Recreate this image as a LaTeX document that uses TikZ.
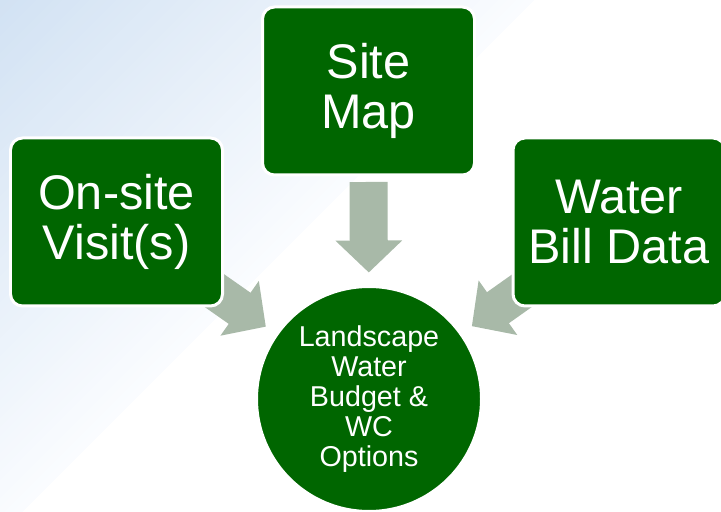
\documentclass[tikz,border=0pt]{standalone}
\usepackage{fontspec}
\setmainfont{Liberation Sans}
\usetikzlibrary{arrows.meta,backgrounds}
\pgfdeclarelayer{bottom}
\pgfsetlayers{bottom,background,main}
\definecolor{leafgreen}{RGB}{0,102,0}
\definecolor{arrowgray}{RGB}{168,185,168}
\definecolor{skyblue}{RGB}{210,226,243}
\definecolor{paleblue}{RGB}{250,252,255}
\tikzset{
  box/.style={rectangle, draw=white, line width=0.09cm, fill=leafgreen, rounded corners=0.36cm,
    minimum width=6.36cm, minimum height=5.04cm, text=white, align=center,
    font=\fontsize{41.5}{43}\selectfont},
  hub/.style={circle, draw=white, line width=0.09cm, fill=leafgreen, minimum size=6.75cm,
    inner sep=0pt, text=white, align=center, font=\fontsize{24.5}{25.5}\selectfont},
  feed/.style={draw=arrowgray, line width=1.14cm, -{Triangle[length=0.96cm, width=1.95cm]}}
}

\begin{document}
\begin{tikzpicture}
  \useasboundingbox (0,0) rectangle (21.63,15.33);
  % backdrop: pale blue wash in the upper left corner, in diagonal bands
  \begin{pgfonlayer}{bottom}
    \clip (0,0) rectangle (21.63,15.33);
    \foreach \i in {0,...,59} {
      \pgfmathsetmacro{\sa}{\i*16/60}
      \pgfmathsetmacro{\sb}{(\i+1)*16/60+0.03}
      \pgfmathsetmacro{\mix}{100-100*\i/59}
      \fill[skyblue!\mix!paleblue] (\sa,15.33) -- (\sb,15.33) -- (0,15.33-\sb) -- (0,15.33-\sa) -- cycle;
    }
  \end{pgfonlayer}
  \node[box] (visit) at (3.495,8.67) {On-site\\Visit(s)};
  \node[box] (site) at (11.055,12.6) {Site\\Map};
  \node[box] (bill) at (18.57,8.67) {Water\\Bill Data};
  \node[hub] (land) at (11.07,3.36) {Landscape\\Water\\Budget \&\\WC\\Options};
  \begin{pgfonlayer}{background}
    \draw[feed, shorten <=0.165cm, shorten >=0.375cm] (site) -- (land);
    \draw[feed, shorten <=2.7cm, shorten >=0.36cm] (visit.center) -- (land);
    \draw[feed, shorten <=2.7cm, shorten >=0.36cm] (bill.center) -- (land);
  \end{pgfonlayer}
\end{tikzpicture}
\end{document}
